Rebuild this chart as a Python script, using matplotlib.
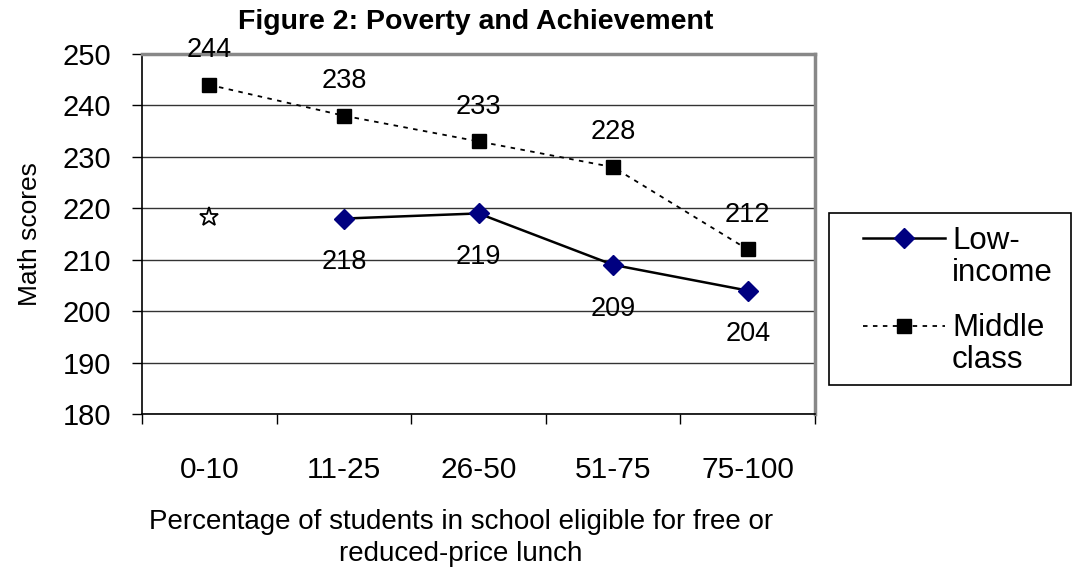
import matplotlib
matplotlib.use("Agg")
import matplotlib.pyplot as plt
from matplotlib.lines import Line2D
from matplotlib.patches import Rectangle

plt.rcParams['font.family'] = ['Liberation Sans', 'DejaVu Sans']

categories = ["0-10", "11-25", "26-50", "51-75", "75-100"]
middle_class = [244, 238, 233, 228, 212]
low_income_cats = ["11-25", "26-50", "51-75", "75-100"]
low_income = [218, 219, 209, 204]
star_cat = "0-10"
star_value = 218.3
y_ticks = [180, 190, 200, 210, 220, 230, 240, 250]

fig = plt.figure(figsize=(10.75, 5.69), dpi=100)
ax = fig.add_axes([142/1075, 1-414/569, (815-142)/1075, (414-54)/569])

xpos = {c: i for i, c in enumerate(categories)}
x_mid = [xpos[c] for c in categories]
x_low = [xpos[c] for c in low_income_cats]

ax.plot(x_mid, middle_class, color='black', lw=1.3, linestyle=(0, (2.5, 3)),
        marker='s', markersize=10, markerfacecolor='black', markeredgecolor='black', zorder=3)
ax.plot(x_low, low_income, color='black', lw=1.8, linestyle='-',
        marker='D', markersize=10, markerfacecolor='#000080', markeredgecolor='#000080', zorder=3)
ax.plot([xpos[star_cat]], [star_value], linestyle='none', marker='*', markersize=14,
        markerfacecolor='white', markeredgecolor='black', markeredgewidth=1.3, zorder=3)

for x, v in zip(x_mid, middle_class):
    ax.annotate(str(v), (x, v), xytext=(0, 25), textcoords='offset points',
                ha='center', va='center', fontsize=19.5)
for x, v in zip(x_low, low_income):
    ax.annotate(str(v), (x, v), xytext=(0, -31.5), textcoords='offset points',
                ha='center', va='center', fontsize=19.5)

ax.set_xlim(-0.5, len(categories) - 0.5)
ax.set_ylim(180, 250)
ax.set_yticks(y_ticks)
ax.set_yticklabels([str(t) for t in y_ticks])
ax.yaxis.grid(True, color='#333333', lw=1.0)
ax.set_axisbelow(True)

ax.set_xticks(range(len(categories)))
ax.set_xticklabels(categories)
ax.set_xticks([i - 0.5 for i in range(len(categories) + 1)], minor=True)
ax.tick_params(axis='x', which='major', length=0, pad=30, labelsize=21.5)
ax.tick_params(axis='x', which='minor', length=7, width=1.0, direction='out')
ax.tick_params(axis='y', which='major', length=7, width=1.0, pad=15, labelsize=21, direction='out')

for s in ['left', 'bottom']:
    ax.spines[s].set_color('black')
    ax.spines[s].set_linewidth(1.2)
for s in ['top', 'right']:
    ax.spines[s].set_color('#888888')
    ax.spines[s].set_linewidth(2.5)

ax.set_ylabel("Math scores", fontsize=19, labelpad=15)

W, H = 1075, 569
def fx(px):
    return px / W
def fy(py):
    return 1 - py / H

fig.text(fx(461), fy(538), "Percentage of students in school eligible for free or\nreduced-price lunch",
         ha='center', va='center', fontsize=20, linespacing=1.3)
fig.text(fx(476), fy(22), "Figure 2: Poverty and Achievement", ha='center', va='center',
         fontsize=20.5, fontweight='bold')

# legend (manual)
fig.patches.append(Rectangle((fx(829), fy(385)), fx(1071) - fx(829), fy(213) - fy(385),
                             transform=fig.transFigure, fill=False, edgecolor='black', lw=1.2))
fig.lines.append(Line2D([fx(863), fx(945)], [fy(238), fy(238)], transform=fig.transFigure,
                        color='black', lw=1.8))
fig.lines.append(Line2D([fx(904)], [fy(238)], transform=fig.transFigure, marker='D',
                        markersize=10, color='#000080', linestyle='none'))
fig.lines.append(Line2D([fx(863), fx(945)], [fy(326), fy(326)], transform=fig.transFigure,
                        color='black', lw=1.3, linestyle=(0, (2.5, 3))))
fig.lines.append(Line2D([fx(904)], [fy(326)], transform=fig.transFigure, marker='s',
                        markersize=10, color='black', linestyle='none'))
fig.text(fx(952), fy(226), "Low-\nincome", ha='left', va='top', fontsize=22.5,
         linespacing=1.1, transform=fig.transFigure)
fig.text(fx(952), fy(313), "Middle\nclass", ha='left', va='top', fontsize=22.5,
         linespacing=1.1, transform=fig.transFigure)

fig.savefig("out.png", dpi=100)
